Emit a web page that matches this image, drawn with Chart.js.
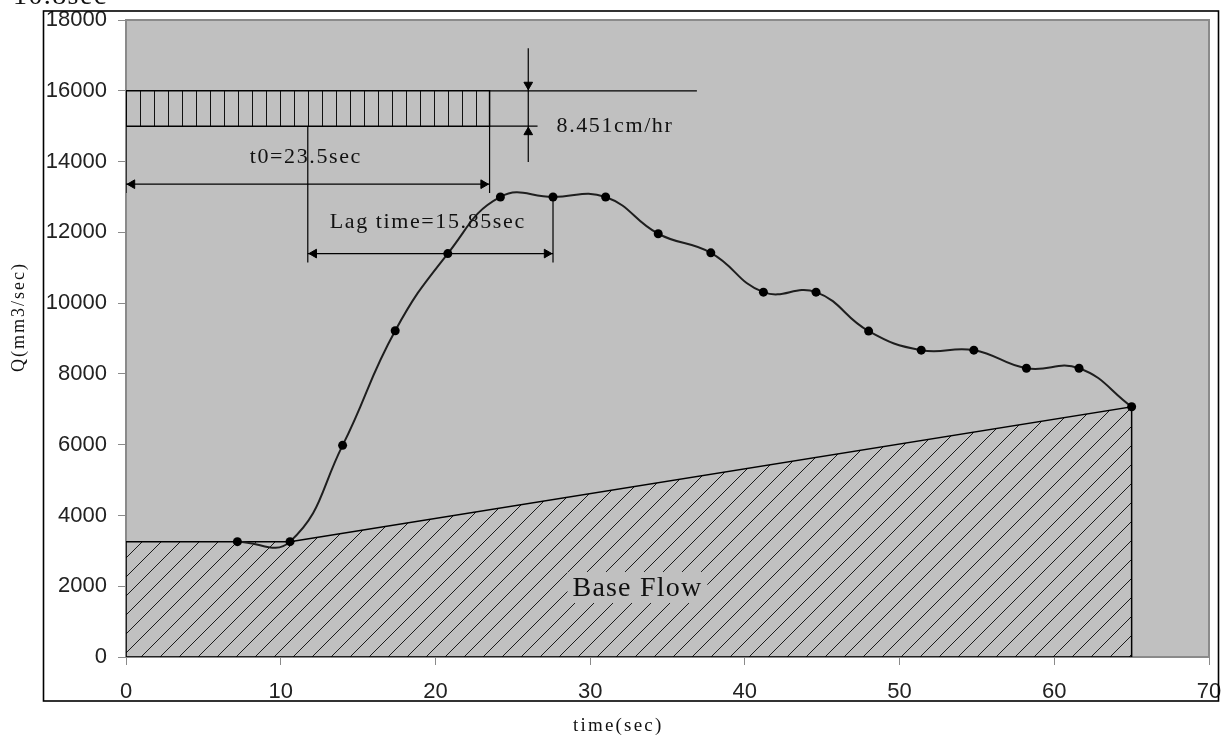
<!DOCTYPE html>
<html><head><meta charset="utf-8">
<script src="https://cdn.jsdelivr.net/npm/chart.js@4.4.1/dist/chart.umd.min.js"></script>
<style>html,body{margin:0;padding:0;background:#fff;overflow:hidden}#wrap{position:relative;width:1224px;height:737px}</style>
</head><body><div id="wrap"><canvas id="c" width="1224" height="737"></canvas></div>
<script>
// hydrograph
const timeSec = [7.2, 10.6, 14.0, 17.4, 20.8, 24.2, 27.6, 31.0, 34.4, 37.8, 41.2, 44.6, 48.0, 51.4, 54.8, 58.2, 61.6, 65.0];
const flowQ   = [3260, 3260, 5980, 9220, 11400, 13000, 13000, 13000, 11960, 11420, 10310, 10310, 9210, 8670, 8670, 8160, 8160, 7070];
// base flow polygon
const baseFlowT = [0, 0, 10.6, 65.0, 65.0, 0];
const baseFlowQ = [0, 3260, 3260, 7070, 0, 0];
// rainfall block (t0 = 23.5 s)
const rainT = [0, 0, 23.5, 23.5, 0];
const rainQ = [15000, 16000, 16000, 15000, 15000];
// dimension lines (each pair = one segment)
const dimLineT = [[23.5, 36.9], [23.5, 26.6], [26.0, 26.0], [23.5, 23.5], [0, 23.5], [0, 0], [11.75, 11.75], [11.75, 27.6], [27.6, 27.6]];
const dimLineQ = [[16000, 16000], [15000, 15000], [17200, 13990], [15000, 13110], [13360, 13360], [15000, 13110], [15000, 11150], [11400, 11400], [13000, 11150]];
// arrow heads
const arrowT = [0.4, 23.1, 12.15, 27.2, 26.0, 26.0];
const arrowQ = [13360, 13360, 11400, 11400, 16170, 14830];
const arrowDir = [270, 90, 270, 90, 180, 0];
// tick labels
const xTicks = [0, 10, 20, 30, 40, 50, 60, 70];
const yTicks = [0, 2000, 4000, 6000, 8000, 10000, 12000, 14000, 16000, 18000];
// texts
const annoText = ['t0=23.5sec', 'Lag time=15.85sec', '8.451cm/hr', 'Base Flow'];
const annoT = [8.0, 13.17, 27.83, 28.86];
const annoQ = [13960, 12115, 14845, 1724];

const canvas = document.getElementById('c');
const cx = canvas.getContext('2d');

function makeHatch() {
  const t = document.createElement('canvas'); t.width = 19; t.height = 19;
  const c = t.getContext('2d');
  c.strokeStyle = '#1a1a1a'; c.lineWidth = 1;
  c.beginPath(); c.moveTo(-1, 20); c.lineTo(20, -1); c.stroke();
  return cx.createPattern(t, 'repeat');
}
function makeVert() {
  const t = document.createElement('canvas'); t.width = 14; t.height = 4;
  const c = t.getContext('2d');
  c.strokeStyle = '#111'; c.lineWidth = 1;
  c.beginPath(); c.moveTo(0.5, 0); c.lineTo(0.5, 4); c.stroke();
  return cx.createPattern(t, 'repeat');
}
const zip = (a, b) => a.map((v, i) => ({x: v, y: b[i]}));

const datasets = [];
datasets.push({
  label: 'Q', data: zip(timeSec, flowQ), showLine: true, tension: 0.45,
  borderColor: '#1e1e1e', borderWidth: 2, pointRadius: 4.5, pointBackgroundColor: '#000',
  pointBorderWidth: 0, fill: false
});
datasets.push({
  label: 'arrows', data: zip(arrowT, arrowQ), showLine: false, pointStyle: 'triangle',
  rotation: arrowDir, pointRadius: 5, pointBackgroundColor: '#000', pointBorderColor: '#000', pointBorderWidth: 1
});
dimLineT.forEach((tt, i) => datasets.push({
  label: 'dim' + i, data: zip(tt, dimLineQ[i]), showLine: true, borderColor: '#000',
  borderWidth: 1.2, pointRadius: 0, fill: false
}));
datasets.push({
  label: 'rain', data: zip(rainT, rainQ), showLine: true, borderColor: '#000', borderWidth: 1.5,
  pointRadius: 0, fill: 'shape', backgroundColor: makeVert()
});
datasets.push({
  label: 'base', data: zip(baseFlowT, baseFlowQ), showLine: true, borderColor: '#000', borderWidth: 1.5,
  pointRadius: 0, fill: 'shape', backgroundColor: makeHatch()
});

const deco = {
  id: 'deco',
  beforeDraw(chart) {
    const {ctx, chartArea: a} = chart;
    ctx.save();
    ctx.fillStyle = '#fff'; ctx.fillRect(0, 0, chart.width, chart.height);
    ctx.fillStyle = '#c0c0c0'; ctx.fillRect(a.left, a.top, a.right - a.left, a.bottom - a.top);
    ctx.strokeStyle = '#8a8a8a'; ctx.lineWidth = 2;
    ctx.strokeRect(a.left, a.top, a.right - a.left, a.bottom - a.top);
    ctx.restore();
  },
  afterDatasetsDraw(chart) {
    const {ctx, scales: {x, y}} = chart;
    ctx.save();
    ctx.fillStyle = '#111';
    ctx.textAlign = 'left'; ctx.textBaseline = 'alphabetic';
    annoText.forEach((s, i) => {
      const px = x.getPixelForValue(annoT[i]), py = y.getPixelForValue(annoQ[i]);
      if (i === 3) {
        ctx.font = '28px "Liberation Serif"'; ctx.letterSpacing = '1.2px';
        const w = ctx.measureText(s).width;
        ctx.fillStyle = '#c0c0c0'; ctx.fillRect(px - 5, py - 24, w + 10, 31);
        ctx.fillStyle = '#111';
      } else {
        ctx.font = '22px "Liberation Serif"'; ctx.letterSpacing = '1.6px';
      }
      ctx.fillText(s, px, py);
    });
    ctx.restore();
  },
  afterDraw(chart) {
    const {ctx} = chart;
    ctx.save();
    ctx.strokeStyle = '#000'; ctx.lineWidth = 1.6;
    ctx.strokeRect(43.5, 11, 1175, 690);
    ctx.fillStyle = '#111'; ctx.textAlign = 'left'; ctx.textBaseline = 'alphabetic';
    ctx.font = '28px "Liberation Serif"'; ctx.letterSpacing = '1.4px';
    ctx.fillText('10.8sec', 13, 4);
    ctx.font = '19px "Liberation Serif"'; ctx.letterSpacing = '2.2px';
    ctx.fillText('time(sec)', 573, 731);
    ctx.translate(24, 372); ctx.rotate(-Math.PI / 2);
    ctx.font = '18px "Liberation Serif"'; ctx.letterSpacing = '2px';
    ctx.fillText('Q(mm3/sec)', 0, 0);
    ctx.restore();
  }
};

new Chart(canvas, {
  type: 'scatter',
  data: {datasets},
  options: {
    responsive: false, animation: false, devicePixelRatio: 1,
    layout: {padding: {left: 0, top: 20, right: 15, bottom: 0}},
    plugins: {legend: {display: false}, tooltip: {enabled: false}},
    scales: {
      x: {
        type: 'linear', min: 0, max: 70,
        afterBuildTicks: s => { s.ticks = xTicks.map(v => ({value: v})); },
        afterFit: s => { s.height = 80; s.paddingRight = 0; s.paddingLeft = 0; },
        ticks: {font: {family: 'Liberation Sans', size: 22}, color: '#222', padding: 14, maxRotation: 0,
          callback: v => String(v)},
        grid: {drawOnChartArea: false, drawTicks: true, tickLength: 8, color: '#8a8a8a'},
        border: {display: true, color: '#8a8a8a', width: 1}
      },
      y: {
        type: 'linear', min: 0, max: 18000,
        afterBuildTicks: s => { s.ticks = yTicks.map(v => ({value: v})); },
        afterFit: s => { s.width = 126; s.paddingTop = 0; s.paddingBottom = 0; },
        ticks: {font: {family: 'Liberation Sans', size: 22}, color: '#222', padding: 11,
          callback: v => String(v)},
        grid: {drawOnChartArea: false, drawTicks: true, tickLength: 8, color: '#8a8a8a'},
        border: {display: true, color: '#8a8a8a', width: 1}
      }
    }
  },
  plugins: [deco]
});
</script></body></html>
